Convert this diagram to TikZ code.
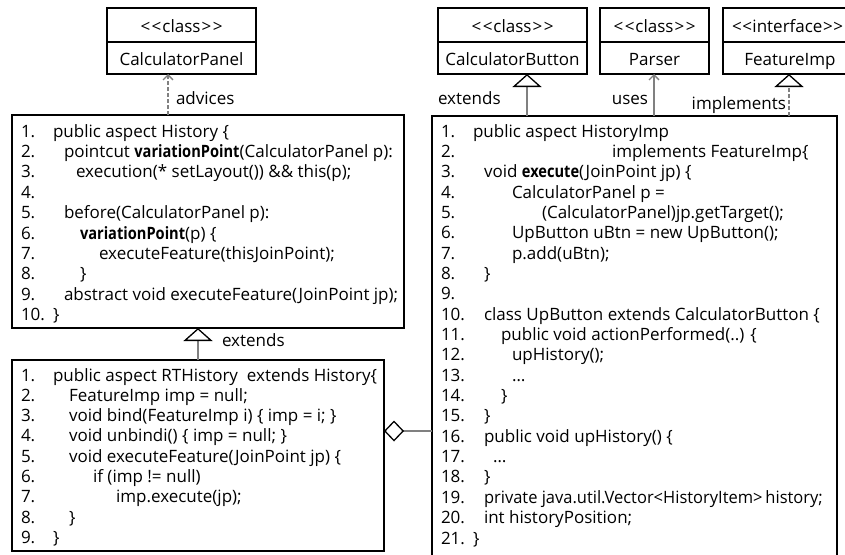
\documentclass[tikz,border=0pt]{standalone}
\usepackage{fontspec}
\setmainfont{Open Sans}
\newfontfamily\bnarrowfam{Open Sans}[FakeStretch=0.86]
\newfontfamily\slimfam{Open Sans}[FakeStretch=0.97]
\newcommand\bword[1]{{\bnarrowfam\bfseries #1}}
\newcommand\stereo[1]{<\kern1.5pt<\kern1pt#1\kern1pt>\kern1.5pt>}
\newcommand\stereotight[1]{<\kern0.5pt<\kern0.5pt#1\kern0.5pt>\kern0.5pt>}
\usetikzlibrary{arrows.meta}
\definecolor{conn}{RGB}{128,128,128}
\tikzset{
  codebox/.style={draw=black, line width=1.8pt, inner sep=0pt, outer sep=0pt, anchor=north west},
  cls/.style={draw=black, line width=1.8pt, inner sep=0pt, outer sep=0pt, text height=14pt, text depth=0pt},
  ln/.style={anchor=base west, inner sep=0pt, outer sep=0pt},
  lbl/.style={inner sep=0pt, outer sep=0pt},
  conline/.style={draw=conn, line width=1.6pt},
  gen/.style={conline, -{Triangle[length=13pt,width=29pt,line width=1.3pt,color=black,fill=white]}},
  realz/.style={gen, dash pattern=on 4pt off 2pt},
  dep/.style={conline, dash pattern=on 4pt off 2pt, -{Straight Barb[length=5pt,width=10pt,line width=1.3pt]}},
  usage/.style={conline, -{Straight Barb[length=5pt,width=10pt,line width=1.3pt]}},
  agg/.style={conline, {Diamond[length=20pt,width=21pt,line width=1.3pt,color=black,fill=white]}-},
}
\begin{document}
\begin{tikzpicture}[x=1pt,y=-1pt,font=\fontsize{17}{20}\selectfont]
\useasboundingbox[fill=white] (0,0) rectangle (845,554);

% ---------- class boxes ----------
\node[cls, minimum width=149pt, minimum height=34pt, anchor=north west] (cpS) at (107,8) {\stereo{class}};
\node[cls, minimum width=149pt, minimum height=32pt, anchor=north] (cpN) at (cpS.south) {CalculatorPanel};

\node[cls, minimum width=149pt, minimum height=34pt, anchor=north west] (cbS) at (438,8) {\stereo{class}};
\node[cls, minimum width=149pt, minimum height=32pt, anchor=north] (cbN) at (cbS.south) {CalculatorButton};

\node[cls, minimum width=109pt, minimum height=34pt, anchor=north west] (paS) at (600,8) {\stereo{class}};
\node[cls, minimum width=109pt, minimum height=32pt, anchor=north] (paN) at (paS.south) {Parser};

\node[cls, minimum width=134pt, minimum height=34pt, anchor=north west] (fiS) at (723,8) {\stereotight{interface}\kern5pt};
\node[cls, minimum width=134pt, minimum height=32pt, anchor=north] (fiN) at (fiS.south) {FeatureImp};

% ---------- code boxes ----------
\node[codebox, minimum width=392pt, minimum height=213pt] (hist) at (12,115) {};
\node[codebox, minimum width=372pt, minimum height=191pt] (rth) at (12,360) {};
\node[codebox, minimum width=405pt, minimum height=460pt] (himp) at (432,116) {};

% History
\node[ln] (hn1) at (21,137) {1.};    \node[ln] (hc1) at (53,137) {public aspect History \{};
\node[ln] (hn2) at (21,157.4) {2.};  \node[ln] (hc2) at (64,157.4) {pointcut \bword{variationPoint}(CalculatorPanel p):};
\node[ln] (hn3) at (21,177.8) {3.};  \node[ln] (hc3) at (76,177.8) {execution(* setLayout()) \&\& this(p);};
\node[ln] (hn4) at (21,198.2) {4.};
\node[ln] (hn5) at (21,218.6) {5.};  \node[ln] (hc5) at (64,218.6) {before(CalculatorPanel p):};
\node[ln] (hn6) at (21,239) {6.};    \node[ln] (hc6) at (80,239) {\bword{variationPoint}(p) \{};
\node[ln] (hn7) at (21,259.4) {7.};  \node[ln] (hc7) at (99,259.4) {executeFeature(thisJoinPoint);};
\node[ln] (hn8) at (21,279.8) {8.};  \node[ln] (hc8) at (80,279.8) {\}};
\node[ln] (hn9) at (21,300.2) {9.};  \node[ln] (hc9) at (64,300.2) {abstract void executeFeature(JoinPoint jp);};
\node[ln] (hn10) at (21,320.6) {10.}; \node[ln] (hc10) at (53,320.6) {\}};

% RTHistory
\node[ln] (rn1) at (21,381) {1.};    \node[ln] (rc1) at (53,381) {public aspect RTHistory\ \ extends History\{};
\node[ln] (rn2) at (21,401.3) {2.};  \node[ln] (rc2) at (69,401.3) {FeatureImp imp = null;};
\node[ln] (rn3) at (21,421.6) {3.};  \node[ln] (rc3) at (69,421.6) {void bind(FeatureImp i) \{ imp = i; \}};
\node[ln] (rn4) at (21,441.9) {4.};  \node[ln] (rc4) at (69,441.9) {void unbindi() \{ imp = null; \}};
\node[ln] (rn5) at (21,462.2) {5.};  \node[ln] (rc5) at (69,462.2) {void executeFeature(JoinPoint jp) \{};
\node[ln] (rn6) at (21,482.5) {6.};  \node[ln] (rc6) at (93,482.5) {if (imp != null)};
\node[ln] (rn7) at (21,502.8) {7.};  \node[ln] (rc7) at (116,502.8) {imp.execute(jp);};
\node[ln] (rn8) at (21,523.1) {8.};  \node[ln] (rc8) at (69,523.1) {\}};
\node[ln] (rn9) at (21,543.4) {9.};  \node[ln] (rc9) at (53,543.4) {\}};

% HistoryImp
\node[ln] (in1) at (441,137) {1.};     \node[ln] (ic1) at (473,137) {public aspect HistoryImp};
\node[ln] (in2) at (441,157.35) {2.};  \node[ln] (ic2) at (612,157.35) {implements FeatureImp\{};
\node[ln] (in3) at (441,177.7) {3.};   \node[ln] (ic3) at (484,177.7) {void \bword{execute}(JoinPoint jp) \{};
\node[ln] (in4) at (441,198.05) {4.};  \node[ln] (ic4) at (512,198.05) {CalculatorPanel p =};
\node[ln] (in5) at (441,218.4) {5.};   \node[ln] (ic5) at (542,218.4) {(CalculatorPanel)jp.getTarget();};
\node[ln] (in6) at (441,238.75) {6.};  \node[ln] (ic6) at (512,238.75) {UpButton uBtn = new UpButton();};
\node[ln] (in7) at (441,259.1) {7.};   \node[ln] (ic7) at (512,259.1) {p.add(uBtn);};
\node[ln] (in8) at (441,279.45) {8.};  \node[ln] (ic8) at (484,279.45) {\}};
\node[ln] (in9) at (441,299.8) {9.};
\node[ln] (in10) at (441,320.15) {10.}; \node[ln] (ic10) at (484,320.15) {class UpButton extends CalculatorButton \{};
\node[ln] (in11) at (441,340.5) {11.};  \node[ln] (ic11) at (501,340.5) {public void actionPerformed(..) \{};
\node[ln] (in12) at (441,360.85) {12.}; \node[ln] (ic12) at (512,360.85) {upHistory();};
\node[ln] (in13) at (441,381.2) {13.};  \node[ln] (ic13) at (512,381.2) {…};
\node[ln] (in14) at (441,401.55) {14.}; \node[ln] (ic14) at (501,401.55) {\}};
\node[ln] (in15) at (441,421.9) {15.};  \node[ln] (ic15) at (484,421.9) {\}};
\node[ln] (in16) at (441,442.25) {16.}; \node[ln] (ic16) at (484,442.25) {public void upHistory() \{};
\node[ln] (in17) at (441,462.6) {17.};  \node[ln] (ic17) at (493,462.6) {…};
\node[ln] (in18) at (441,482.95) {18.}; \node[ln] (ic18) at (484,482.95) {\}};
\node[ln] (in19) at (441,503.3) {19.};  \node[ln] (ic19) at (484,503.3) {\slimfam private java.util.Vector<HistoryItem>\,history;};
\node[ln] (in20) at (441,523.65) {20.}; \node[ln] (ic20) at (484,523.65) {int historyPosition;};
\node[ln] (in21) at (441,544) {21.};    \node[ln] (ic21) at (473,544) {\}};

% ---------- connectors ----------
\coordinate (advx) at (168,0);
\coordinate (genx) at (198,0);
\coordinate (extx) at (527,0);
\coordinate (usex) at (654,0);
\coordinate (impx) at (789,0);
\coordinate (aggy) at (0,431);

\draw[dep] (hist.north -| advx) -- (cpN.south -| advx);
\draw[gen] (rth.north -| genx) -- (hist.south -| genx);
\draw[gen] (himp.north -| extx) -- (cbN.south -| extx);
\draw[usage] (himp.north -| usex) -- (paN.south -| usex);
\draw[realz] (himp.north -| impx) -- (fiN.south -| impx);
\draw[agg] (rth.east |- aggy) -- (himp.west |- aggy);

% ---------- labels ----------
\node[lbl, anchor=base west] (advlbl) at (176,104) {advices};
\node[lbl, anchor=base west] (extlbl1) at (222,346) {extends};
\node[lbl, anchor=base west] (extlbl2) at (438,104) {extends};
\node[lbl, anchor=base east] (uselbl) at (648,104) {uses};
\node[lbl, anchor=base east] (implbl) at (786,109) {implements};
\end{tikzpicture}
\end{document}
